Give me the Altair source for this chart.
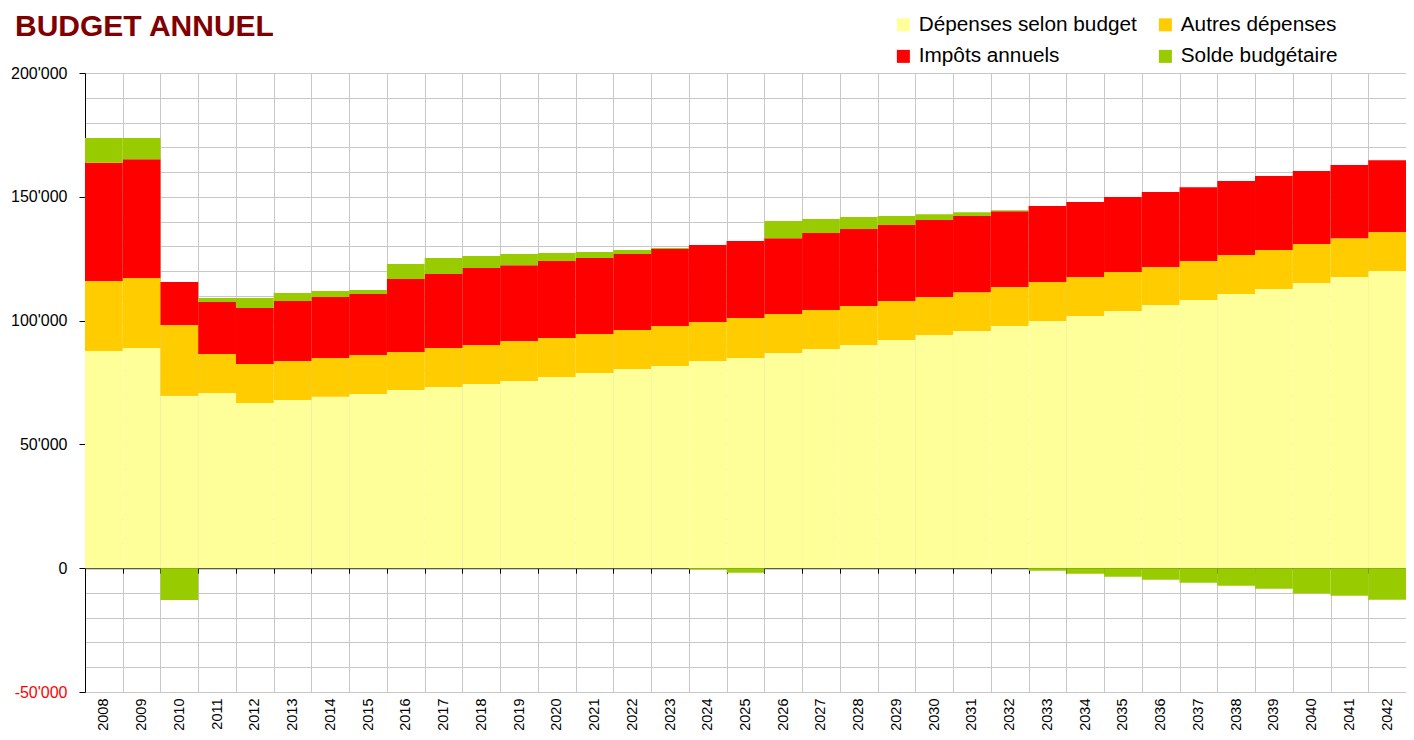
import altair as alt
import pandas as pd

FONT = "Liberation Sans"

years = [str(y) for y in range(2008, 2043)]

depenses = [87700, 88900, 69600, 70800, 66700, 67900, 69200, 70400, 72000, 73200,
            74400, 75600, 77200, 78800, 80500, 81700, 83700, 84900, 86900, 88500,
            90100, 92200, 94200, 95800, 97800, 99800, 101900, 103900, 106300, 108300,
            110700, 112800, 115200, 117600, 120000]
autres = [28300, 28300, 28600, 15700, 15800, 15800, 15700, 15700, 15300, 15700,
          15700, 16200, 15800, 15800, 15700, 16100, 15700, 16100, 15800, 15800,
          15800, 15700, 15300, 15700, 15800, 15800, 15700, 15700, 15300, 15800,
          15800, 15700, 15700, 15700, 15800]
impots = [47750, 48000, 17400, 21000, 22600, 24200, 24600, 24600, 29500, 29900,
          31100, 30600, 31100, 30700, 30700, 31100, 31100, 31100, 30600, 31100,
          31100, 30700, 31100, 30700, 30600, 30700, 30300, 30300, 30300, 29800,
          29900, 29900, 29500, 29500, 29000]
solde = [9950, 8500, -12800, 1600, 4000, 3200, 2500, 1700, 6100, 6500,
         4900, 4500, 3200, 2400, 1600, 400, -540, -1880, 6900, 5600,
         4800, 3600, 2400, 1600, 400, -1080, -2290, -3500, -4710, -5920,
         -7130, -8340, -10220, -11170, -12780]

series_names = ["Dépenses selon budget", "Autres dépenses", "Impôts annuels", "Solde budgétaire"]
series_colors = ["#FFFF99", "#FFCC00", "#FF0000", "#99CC00"]
series_values = [depenses, autres, impots, solde]

rows = []
for k, (name, vals) in enumerate(zip(series_names, series_values)):
    for y, v in zip(years, vals):
        rows.append({"year": y, "series": name, "value": v, "order": k})
df = pd.DataFrame(rows)

title_df = pd.DataFrame({"t": ["BUDGET ANNUEL"]})

y_values = list(range(-50000, 200001, 10000))
y_label_expr = ("datum.value % 50000 == 0 ? ((datum.value < 0 ? '-' : '') + "
                "replace(format(abs(datum.value), ','), ',', \"'\")) : ''")

bars = alt.Chart(df).mark_bar().encode(
    x=alt.X("year:O", sort=years,
            scale=alt.Scale(paddingInner=0, paddingOuter=0),
            axis=alt.Axis(title=None, orient="bottom", domain=False, ticks=False, tickSize=0,
                          tickBand="extent", grid=True, gridColor="#c8c8c8", gridWidth=1,
                          labelAngle=270, labelFontSize=14.5, labelFont=FONT,
                          labelColor="black", labelPadding=6, labelOverlap=False)),
    y=alt.Y("value:Q", stack="zero",
            scale=alt.Scale(domain=[-50000, 200000], nice=False, zero=False),
            axis=alt.Axis(title=None, values=y_values, tickCount=len(y_values) + 5,
                          labelExpr=y_label_expr, labelOverlap=False,
                          grid=True, gridColor="#c8c8c8", gridWidth=1,
                          domainColor="black", tickColor="black", tickSize=6,
                          tickOpacity=alt.condition("datum.value % 50000 == 0", alt.value(1), alt.value(0)),
                          labelColor=alt.condition("datum.value < 0", alt.value("#FF0000"), alt.value("black")),
                          labelFontSize=16, labelFont=FONT, labelPadding=12)),
    color=alt.Color("series:N",
                    scale=alt.Scale(domain=series_names, range=series_colors),
                    legend=alt.Legend(orient="none", legendX=808, legendY=-59, columns=2,
                                      direction="horizontal",
                                      title=None, symbolType="square", symbolSize=169,
                                      symbolStrokeWidth=0, labelFontSize=20.75, labelFont=FONT,
                                      labelColor="black", columnPadding=18, rowPadding=10,
                                      labelOffset=5, padding=0, labelLimit=400)),
    order=alt.Order("order:Q", sort="ascending"),
)

zero_axis = alt.Chart(df).mark_rule(opacity=0).encode(
    x=alt.X("year:O", sort=years,
            axis=alt.Axis(title=None, orient="bottom", offset=-123.8, labels=False, grid=False,
                          domainColor="black", domainWidth=1, tickColor="black", tickSize=5,
                          tickBand="extent")),
    y=alt.datum(0),
)

title = alt.Chart(title_df).mark_text(
    align="left", baseline="alphabetic", fontSize=30, fontWeight="bold",
    color="#800000", font=FONT
).encode(text="t:N", x=alt.value(-70), y=alt.value(-37))

chart = alt.layer(bars, zero_axis, title).resolve_axis(x="independent").properties(
    width=1321, height=619,
    autosize=alt.AutoSizeParams(type="none"),
    padding={"left": 77, "top": 65, "right": 0, "bottom": 40},
).configure_view(stroke=None)

chart.save("out.html", embed_options={"renderer": "svg", "actions": False})
